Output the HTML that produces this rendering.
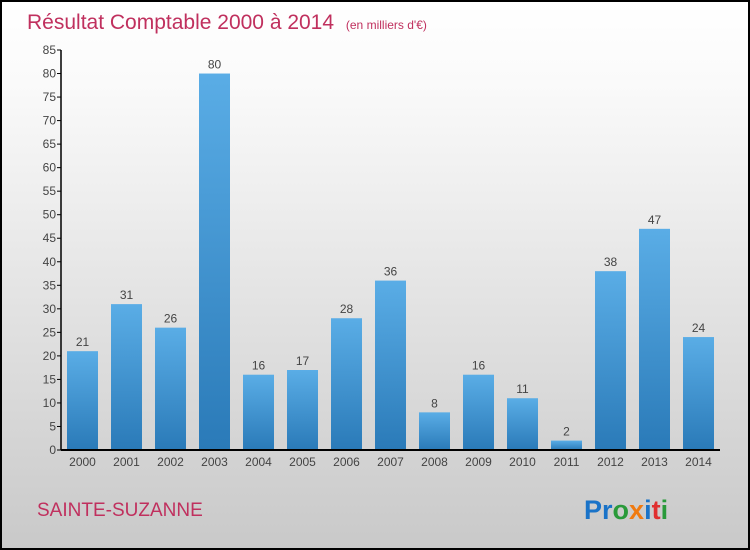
<!DOCTYPE html>
<html><head><meta charset="utf-8"><style>
body{margin:0}
#c{width:750px;height:550px;position:relative;box-sizing:border-box;border:2px solid #000;background:linear-gradient(#fff,#fafafa 15%,#c9c9c9);font-family:"Liberation Sans",sans-serif;overflow:hidden}
</style></head><body>
<div id="c">
<svg id="s" width="746" height="546" style="position:absolute;left:0;top:0">
<defs><linearGradient id="g" x1="0" y1="0" x2="0" y2="1"><stop offset="0" stop-color="#5aade6"/><stop offset="1" stop-color="#2a7ab8"/></linearGradient></defs>
<text x="25" y="27" font-size="21" fill="#c0305e">Résultat Comptable 2000 à 2014 <tspan font-size="12" dx="6">(en milliers d'€)</tspan></text>
<text x="35" y="514" font-size="19" fill="#c0305e">SAINTE-SUZANNE</text>
<text x="582" y="517" font-size="27" font-weight="bold"><tspan fill="#1a73c8">Pr</tspan><tspan fill="#2a9a3a">o</tspan><tspan fill="#f07a10">x</tspan><tspan fill="#1a73c8">i</tspan><tspan fill="#e03030">t</tspan><tspan fill="#2a9a3a">i</tspan></text>
<g id="plot"></g>
</svg>
</div>
<script>
const years=["2000","2001","2002","2003","2004","2005","2006","2007","2008","2009","2010","2011","2012","2013","2014"];
const values=[21,31,26,80,16,17,28,36,8,16,11,2,38,47,24];
const ticks=[0,5,10,15,20,25,30,35,40,45,50,55,60,65,70,75,80,85];
const ns="http://www.w3.org/2000/svg",p=document.getElementById('plot');
const ox=-2,oy=-2;
const y=v=>450+oy-v*(400/85);
const x=i=>82+ox+i*44;
function mk(t,a){const e=document.createElementNS(ns,t);for(const k in a)e.setAttribute(k,a[k]);p.appendChild(e);return e;}
ticks.forEach(t=>{
const l=mk('line',{x1:57+ox,x2:61+ox,y1:y(t),y2:y(t),stroke:'#000'});


const tx=mk('text',{x:56+ox,y:y(t)+4,'text-anchor':'end','font-size':12,fill:'#444'});tx.textContent=t;


});
values.forEach((v,i)=>{
const r=mk('rect',{x:x(i)-15,y:y(v),width:31,height:y(0)-y(v),fill:'url(#g)'});


const t=mk('text',{x:x(i)+0.5,y:y(v)-5,'text-anchor':'middle','font-size':12,fill:'#444'});t.textContent=v;


const xl=mk('text',{x:x(i)+0.5,y:466+oy,'text-anchor':'middle','font-size':12,fill:'#444'});xl.textContent=years[i];


});
const ya=mk('line',{x1:61+ox,x2:61+ox,y1:y(85),y2:y(0),stroke:'#000','stroke-width':1.5});


const xa=mk('line',{x1:61+ox,x2:720+ox,y1:y(0),y2:y(0),stroke:'#000','stroke-width':2});


</script>
</body></html>
